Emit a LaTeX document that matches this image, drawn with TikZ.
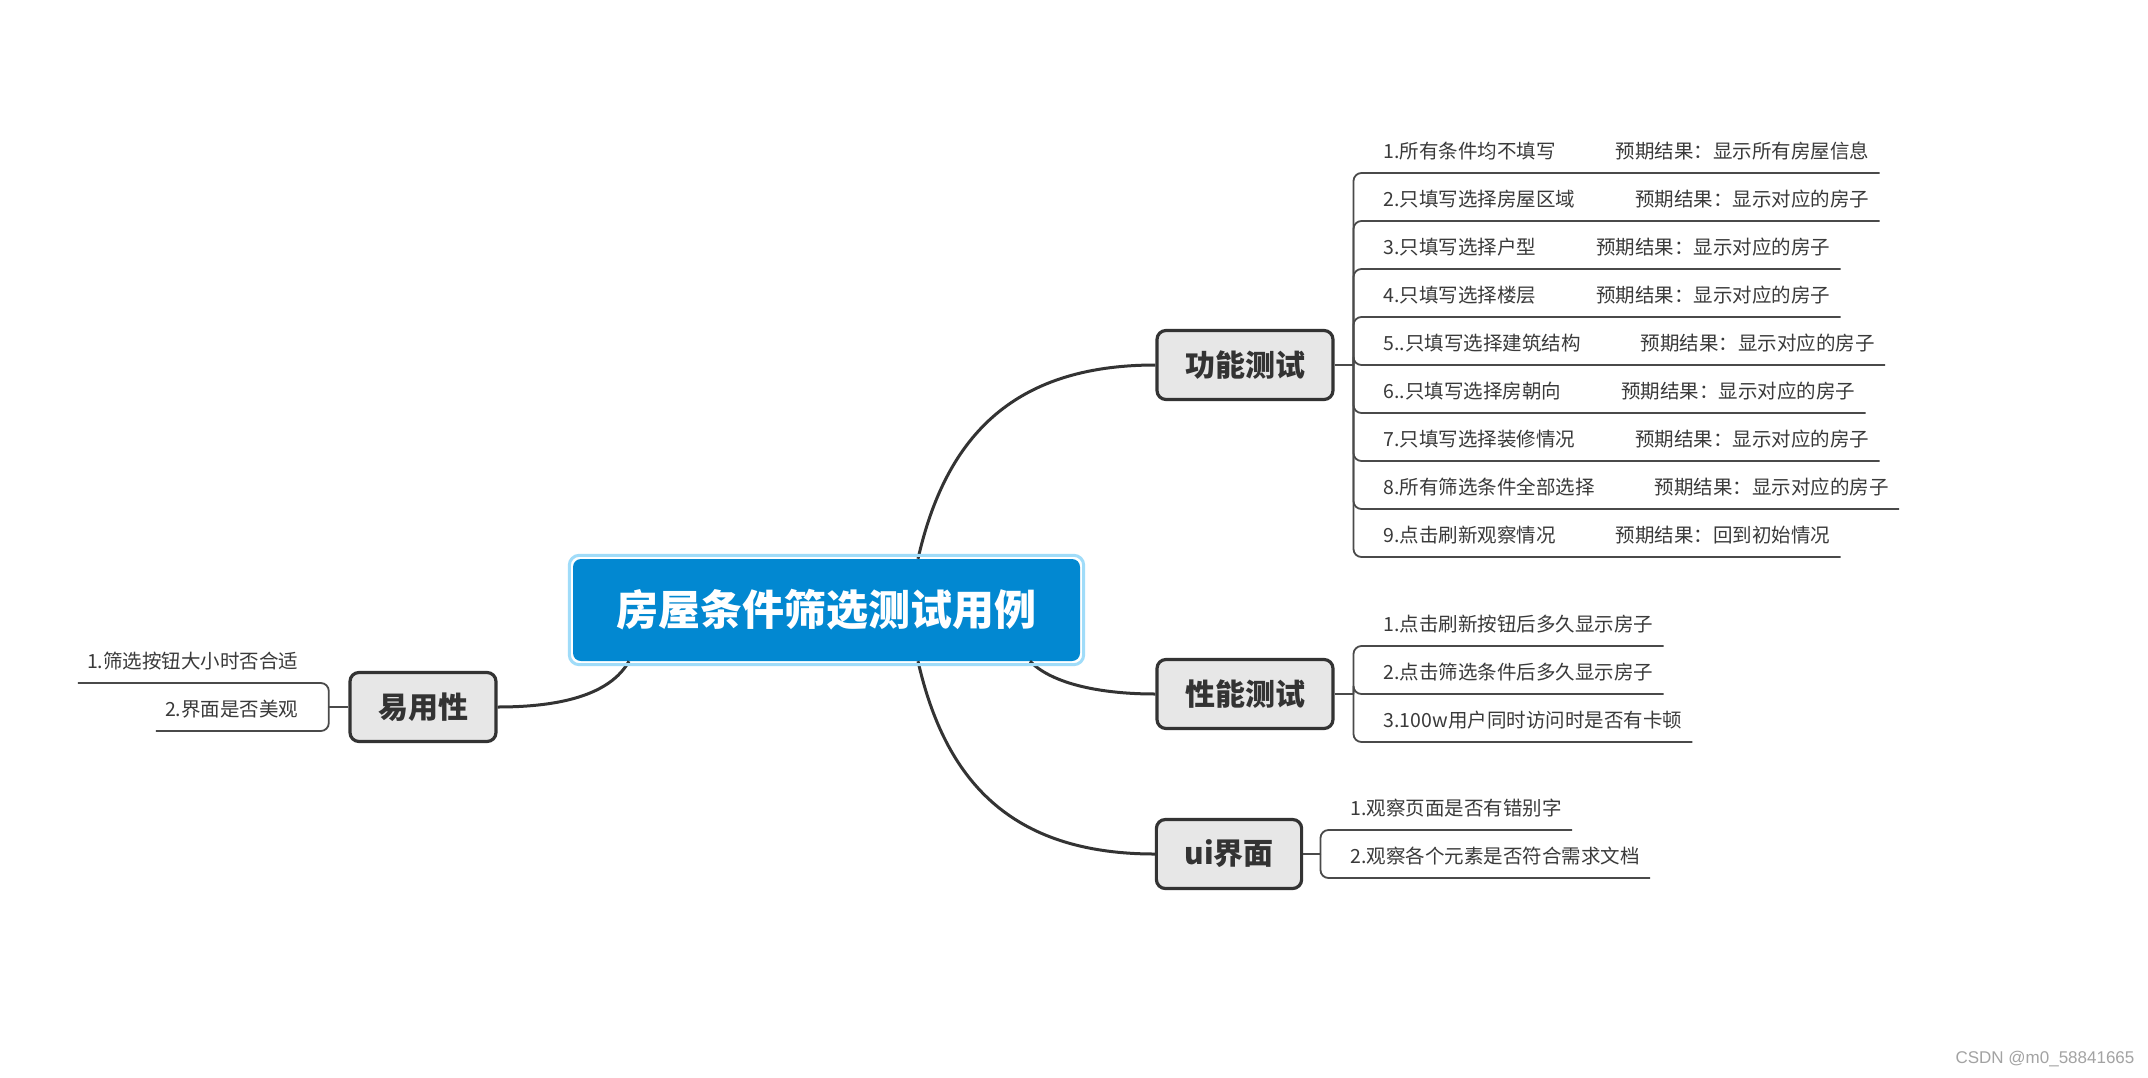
\documentclass[tikz,border=0pt]{standalone}
\usepackage{fontspec}
\newfontfamily\cjk{Noto Sans CJK SC}
\newfontfamily\wmfont{Liberation Sans}
\definecolor{cblue}{HTML}{0288D1}
\definecolor{hlblue}{HTML}{A0DCF9}
\definecolor{tfill}{HTML}{E7E7E7}
\definecolor{tdraw}{HTML}{333333}
\definecolor{ltxt}{HTML}{3A3A3A}
\definecolor{lline}{HTML}{4A4A4A}
\definecolor{wmgray}{HTML}{A3A3A3}
\tikzset{
  topic/.style={draw=tdraw, fill=tfill, line width=3.2pt, rounded corners=9pt,
    minimum height=69pt, inner xsep=28pt, inner ysep=0pt,
    font=\cjk\bfseries\fontsize{30}{32}\selectfont, text=tdraw},
  conn/.style={draw=tdraw, line width=3pt},
  leafr/.style={anchor=south west, inner xsep=0pt, inner ysep=0pt, text depth=14.2pt,
    font=\cjk\fontsize{19.5}{21}\selectfont, text=ltxt},
  leafl/.style={leafr, anchor=south east},
  lk/.style={draw=lline, line width=1.8pt, rounded corners=8pt},
  stem/.style={draw=lline, line width=1.8pt}
}
\newcommand{\gapx}{\hspace{60pt}}
\begin{document}
\begin{tikzpicture}[x=1pt, y=-1pt]
\fill[white] (0,0) rectangle (2148,1077);
\useasboundingbox (0,0) rectangle (2148,1077);

% central node
\node[fill=cblue, rounded corners=8pt, minimum width=507pt, minimum height=102pt,
  inner sep=0pt, text=white, font=\cjk\bfseries\fontsize{42}{44}\selectfont] (c) at (826.5,610) {房屋条件筛选测试用例};

% topics
\node[topic] (g1) at (1245,365) {功能测试};
\node[topic] (g2) at (1245,694) {性能测试};
\node[topic] (g3) at (1229,854) {ui界面};
\node[topic] (g4) at (423,707) {易用性};

% main connectors
\draw[conn] ([xshift=91.5pt]c.north) .. controls (945,440) and (1010,365) .. (g1.west);
\draw[conn] ([xshift=203.5pt]c.south) .. controls (1050,682) and (1095,694) .. (g2.west);
\draw[conn] ([xshift=91.5pt]c.south) .. controls (945,780) and (1010,854) .. (g3.west);
\draw[conn] ([xshift=-197.5pt]c.south) .. controls (610,695) and (560,707) .. (g4.east);

% highlight frame of the central node
\draw[hlblue, line width=3pt, rounded corners=10pt]
  ([xshift=-3.5pt,yshift=3.5pt]c.north west) rectangle ([xshift=3.5pt,yshift=-3.5pt]c.south east);

% junctions
\coordinate (j1) at (1353.5,365);
\coordinate (j2) at (1353.5,694);
\coordinate (j3) at (1320.5,854);
\coordinate (j4) at (328.8,707);
\draw[stem] (g1.east) -- (j1);
\draw[stem] (g2.east) -- (j2);
\draw[stem] (g3.east) -- (j3);
\draw[stem] (g4.west) -- (j4);

% 功能测试 leaves
\node[leafr] (f1) at (1383.5,173) {1.所有条件均不填写\gapx 预期结果：显示所有房屋信息};
\node[leafr] (f2) at (1383.5,221) {2.只填写选择房屋区域\gapx 预期结果：显示对应的房子};
\node[leafr] (f3) at (1383.5,269) {3.只填写选择户型\gapx 预期结果：显示对应的房子};
\node[leafr] (f4) at (1383.5,317) {4.只填写选择楼层\gapx 预期结果：显示对应的房子};
\node[leafr] (f5) at (1383.5,365) {5..只填写选择建筑结构\gapx 预期结果：显示对应的房子};
\node[leafr] (f6) at (1383.5,413) {6..只填写选择房朝向\gapx 预期结果：显示对应的房子};
\node[leafr] (f7) at (1383.5,461) {7.只填写选择装修情况\gapx 预期结果：显示对应的房子};
\node[leafr] (f8) at (1383.5,509) {8.所有筛选条件全部选择\gapx 预期结果：显示对应的房子};
\node[leafr] (f9) at (1383.5,557) {9.点击刷新观察情况\gapx 预期结果：回到初始情况};
\foreach \n in {f1,f2,f3,f4,f5,f6,f7,f8,f9}
  \draw[lk] (j1) |- (\n.south west) -- ([xshift=10pt]\n.south east);

% 性能测试 leaves
\node[leafr] (p1) at (1383.5,646) {1.点击刷新按钮后多久显示房子};
\node[leafr] (p2) at (1383.5,694) {2.点击筛选条件后多久显示房子};
\node[leafr] (p3) at (1383.5,742) {3.100w用户同时访问时是否有卡顿};
\foreach \n in {p1,p2,p3}
  \draw[lk] (j2) |- (\n.south west) -- ([xshift=10pt]\n.south east);

% ui界面 leaves
\node[leafr] (u1) at (1350.5,830) {1.观察页面是否有错别字};
\node[leafr] (u2) at (1350.5,878) {2.观察各个元素是否符合需求文档};
\foreach \n in {u1,u2}
  \draw[lk] (j3) |- (\n.south west) -- ([xshift=10pt]\n.south east);

% 易用性 leaves
\node[leafl] (e1) at (298.6,683) {1.筛选按钮大小时否合适};
\node[leafl] (e2) at (298.6,731) {2.界面是否美观};
\foreach \n in {e1,e2}
  \draw[lk] (j4) |- (\n.south east) -- ([xshift=-9pt]\n.south west);

% watermark
\node[font=\wmfont\fontsize{17}{19}\selectfont, text=wmgray, inner sep=0pt] (wm) at (2045,1059) {CSDN @m0\_58841665};
\end{tikzpicture}
\end{document}
